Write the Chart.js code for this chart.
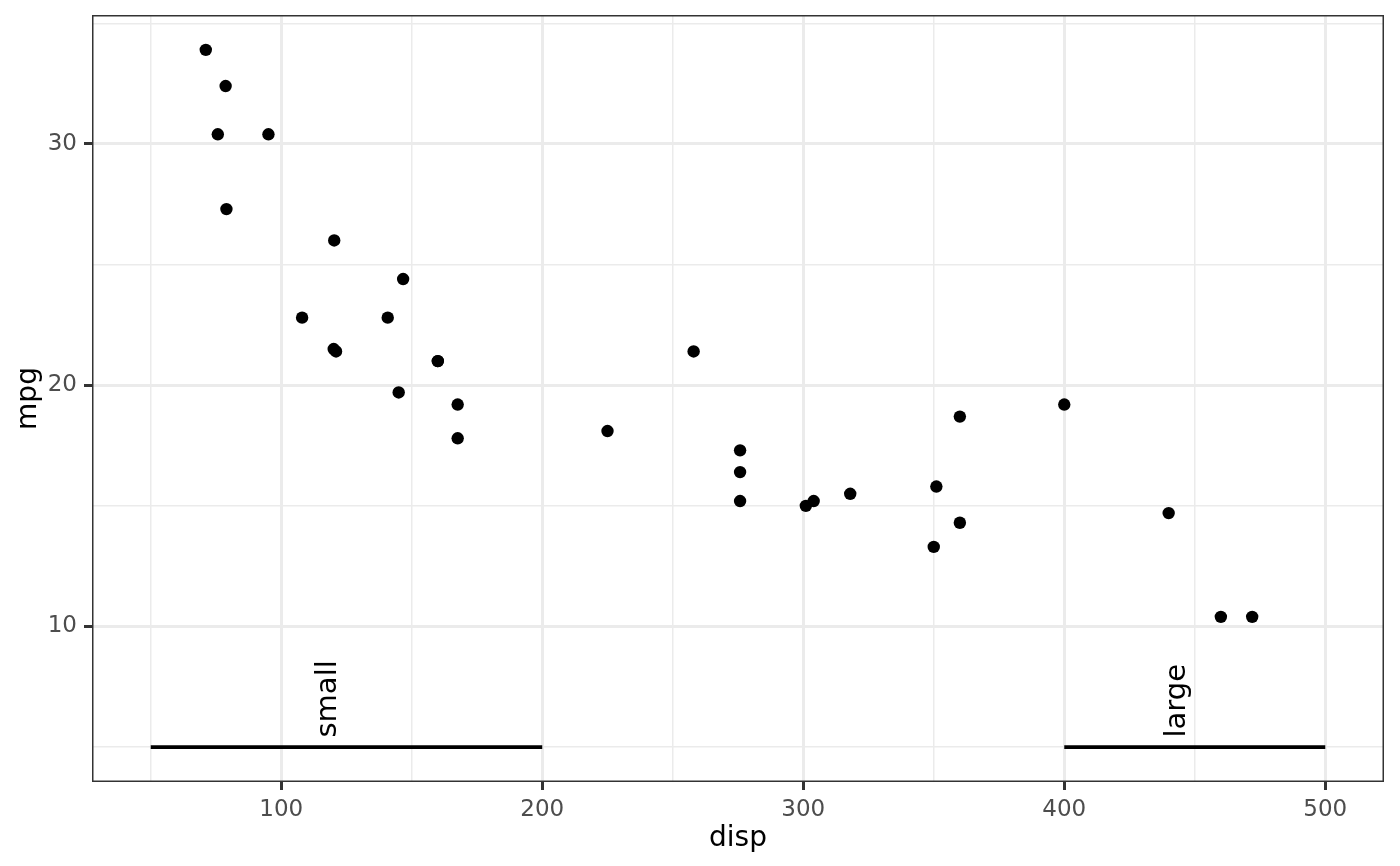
<!DOCTYPE html>
<html>
<head>
<meta charset="utf-8">
<script src="https://cdn.jsdelivr.net/npm/chart.js@4"></script>
<style>
html,body{margin:0;padding:0;background:#fff;}
#wrap{width:1400px;height:866px;}
</style>
</head>
<body>
<div id="wrap"><canvas id="c" width="1400" height="866"></canvas></div>
<script>
// mtcars: displacement vs miles per gallon
const disp = [160,160,108,258,360,225,360,146.7,140.8,167.6,167.6,275.8,275.8,275.8,472,460,440,78.7,75.7,71.1,120.1,318,304,350,400,79,120.3,95.1,351,145,301,121];
const mpg  = [21.0,21.0,22.8,21.4,18.7,18.1,14.3,24.4,22.8,19.2,17.8,16.4,17.3,15.2,10.4,10.4,14.7,32.4,30.4,33.9,21.5,15.5,15.2,13.3,19.2,27.3,26.0,30.4,15.8,19.7,15.0,21.4];

// annotation segments and labels
const segLabels = ["small","large"];
const segStart  = [50,400];
const segEnd    = [200,500];
const segY      = [5,5];
const textX     = [125,450];
const textY     = [5.4,5.4];

// axis ticks
const xMajor = [100,200,300,400,500];
const xMinor = [50,150,250,350,450];
const yMajor = [10,20,30];
const yMinor = [5,15,25,35];
const xLimits = [27.5,522.5];
const yLimits = [3.555,35.345];

const FONT = "'DejaVu Sans', sans-serif";
const TICK_SIZE = 23, TITLE_SIZE = 28, ANNOT_SIZE = 29;

const datasets = [{
  type:'scatter',
  label:'cars',
  data: disp.map((d,i)=>({x:d,y:mpg[i]})),
  backgroundColor:'#000',
  borderWidth:0,
  pointRadius:6.2,
  pointHoverRadius:6.2,
  order:0
}];
segLabels.forEach((l,i)=>{
  datasets.push({
    type:'line',
    label:l,
    data:[{x:segStart[i],y:segY[i]},{x:segEnd[i],y:segY[i]}],
    borderColor:'#000',
    borderWidth:3.8,
    pointRadius:0,
    fill:false,
    order:1
  });
});

const isMajor = (arr,v)=>arr.some(m=>Math.abs(m-v)<1e-9);

const annot = {
  id:'annot',
  afterDatasetsDraw(chart){
    const {ctx, scales:{x,y}, chartArea:a} = chart;
    ctx.save();
    ctx.font = ANNOT_SIZE + 'px ' + FONT;
    ctx.fillStyle = '#000';
    ctx.textAlign = 'left';
    ctx.textBaseline = 'alphabetic';
    segLabels.forEach((l,i)=>{
      ctx.save();
      ctx.translate(x.getPixelForValue(textX[i]) - ANNOT_SIZE*0.35, y.getPixelForValue(textY[i]));
      ctx.rotate(-Math.PI/2);
      ctx.fillText(l,0,0);
      ctx.restore();
    });
    // panel border
    ctx.strokeStyle = '#333333';
    ctx.lineWidth = 1.5;
    ctx.strokeRect(a.left+0.75, a.top+0.75, a.right-a.left-1.5, a.bottom-a.top-1.5);
    ctx.restore();
  }
};

new Chart(document.getElementById('c'), {
  data:{datasets},
  options:{
    responsive:false,
    animation:false,
    devicePixelRatio:1,
    layout:{padding:{top:15,right:16,left:0,bottom:0}},
    plugins:{legend:{display:false},tooltip:{enabled:false}},
    scales:{
      x:{
        type:'linear',
        min:xLimits[0], max:xLimits[1],
        afterBuildTicks(s){ s.ticks = xMinor.concat(xMajor).sort((a,b)=>a-b).map(v=>({value:v})); },
        afterFit(s){ s.height = 84; s.paddingLeft = 0; s.paddingRight = 0; },
        ticks:{
          autoSkip:false, maxRotation:0, padding:6,
          color:'#4D4D4D', font:{family:FONT,size:TICK_SIZE},
          callback:(v)=>isMajor(xMajor,v)?String(v):''
        },
        grid:{
          color:(c)=>'#EBEBEB',
          lineWidth:(c)=>isMajor(xMajor,c.tick.value)?3:1.5,
          tickLength:8,
          tickWidth:3,
          tickColor:(c)=>isMajor(xMajor,c.tick.value)?'#333333':'rgba(0,0,0,0)'
        },
        border:{display:false},
        title:{display:true,text:'disp',color:'#000',font:{family:FONT,size:TITLE_SIZE},padding:{top:0,bottom:10}}
      },
      y:{
        type:'linear',
        min:yLimits[0], max:yLimits[1],
        afterBuildTicks(s){ s.ticks = yMinor.concat(yMajor).sort((a,b)=>a-b).map(v=>({value:v})); },
        afterFit(s){ s.width = 92; s.paddingTop = 0; s.paddingBottom = 0; },
        ticks:{
          autoSkip:false, padding:7,
          color:'#4D4D4D', font:{family:FONT,size:TICK_SIZE},
          callback:(v)=>isMajor(yMajor,v)?String(v):''
        },
        grid:{
          color:(c)=>'#EBEBEB',
          lineWidth:(c)=>isMajor(yMajor,c.tick.value)?3:1.5,
          tickLength:8,
          tickWidth:3,
          tickColor:(c)=>isMajor(yMajor,c.tick.value)?'#333333':'rgba(0,0,0,0)'
        },
        border:{display:false},
        title:{display:true,text:'mpg',color:'#000',font:{family:FONT,size:TITLE_SIZE},padding:{top:12,bottom:0}}
      }
    }
  },
  plugins:[annot]
});
</script>
</body>
</html>
